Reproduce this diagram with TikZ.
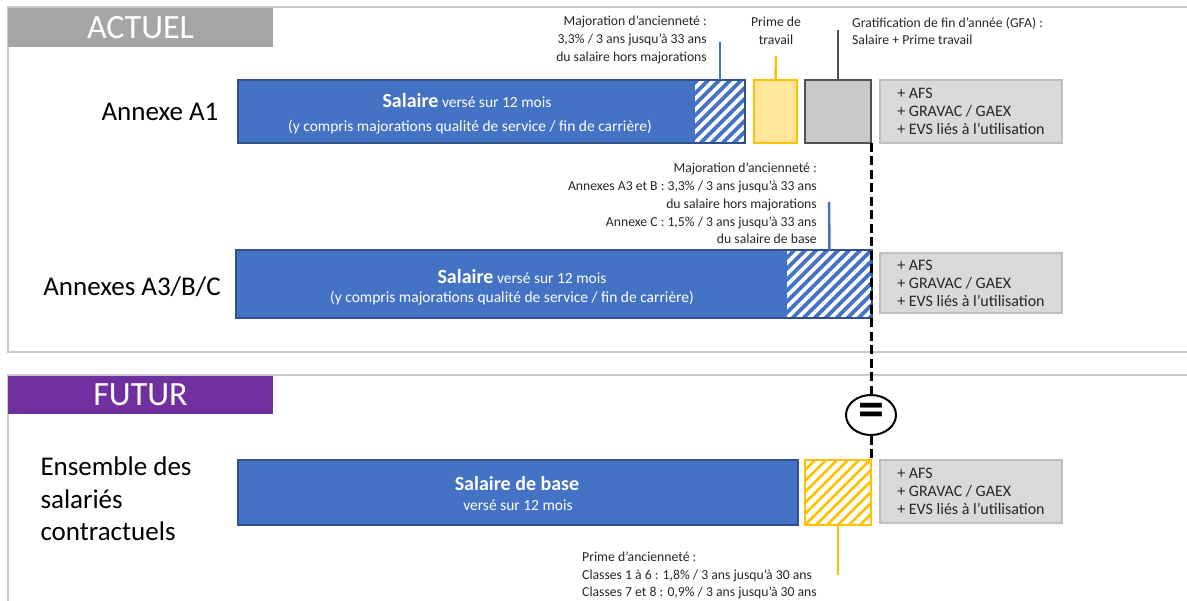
\documentclass[tikz,border=0pt]{standalone}
\usepackage{fontspec}
\setmainfont{Carlito}
\usetikzlibrary{calc,shapes.geometric}
\definecolor{bluefill}{HTML}{4472C4}
\definecolor{blueedge}{HTML}{2F528F}
\definecolor{yelfill}{HTML}{FFE699}
\definecolor{yeledge}{HTML}{FFC000}
\definecolor{gfafill}{HTML}{C9C9C9}
\definecolor{gfaedge}{HTML}{505050}
\definecolor{afsfill}{HTML}{D9D9D9}
\definecolor{afsedge}{HTML}{BFBFBF}
\definecolor{framecol}{HTML}{C8C8C8}
\definecolor{hdrgray}{HTML}{A5A5A5}
\definecolor{hdrpurple}{HTML}{7030A0}
\definecolor{txt}{HTML}{262626}
\begin{document}
\begin{tikzpicture}[x=1pt,y=-1pt,
  box/.style={anchor=north west, inner sep=0pt, outer sep=0pt},
  bar/.style={box, fill=bluefill, draw=blueedge, line width=2.5pt},
  hatchbox/.style={box, draw=none},
  primebox/.style={box, fill=yelfill, draw=yeledge, line width=2.2pt},
  gfabox/.style={box, fill=gfafill, draw=gfaedge, line width=2pt},
  afsbox/.style={anchor=north west, outer sep=0pt, fill=afsfill, draw=afsedge, line width=1.5pt,
     minimum width=182pt, inner sep=0pt, align=left,
     font=\fontsize{16}{18}\selectfont, text=txt},
  hdr/.style={box, minimum width=265pt, minimum height=38pt},
  hdrtext/.style={text=white, font=\fontsize{34}{36}\selectfont},
  rowlabel/.style={text=black, font=\fontsize{27}{32.5}\selectfont},
  note/.style={text=txt, font=\fontsize{13.7}{17.8}\selectfont, inner sep=0pt},
  bartitle/.style={text=white, font=\fontsize{15.5}{18}\selectfont, inner sep=0pt},
  frame/.style={draw=framecol, line width=1.8pt},
  leadblue/.style={draw=bluefill, line width=2.5pt},
  leadyel/.style={draw=yeledge, line width=2.5pt},
  leadgray/.style={draw=gfaedge, line width=2.5pt},
  dashline/.style={draw=black, line width=3pt, dash pattern=on 9pt off 4.5pt},
]
\useasboundingbox (0,0) rectangle (1187,601);

% section frames
\draw[frame] (1195,7) -- (8,7) -- (8,352) -- (1195,352);
\draw[frame] (1195,375) -- (8,375) -- (8,610);

% headers
\node[hdr, fill=hdrgray, minimum width=265pt, minimum height=39pt] (hactuel) at (8,8) {};
\node[hdrtext] (tactuel) at (hactuel.center) {ACTUEL};
\node[hdr, fill=hdrpurple, minimum width=265pt, minimum height=38pt] (hfutur) at (8,376) {};
\node[hdrtext] (tfutur) at (hfutur.center) {FUTUR};

% row labels
\node[rowlabel] (la1) at (160,112) {Annexe A1};
\node[rowlabel] (la3) at (132,287) {Annexes A3/B/C};
\node[rowlabel, anchor=west, align=left] (lfut) at (37,499) {Ensemble des\\salariés\\contractuels};

% ---------------- Annexe A1 ----------------
\node[bar, minimum width=507pt, minimum height=63pt] (a1bar) at (238,80) {};
\node[hatchbox, minimum width=50pt, minimum height=63pt] (a1hatch) at (695,80) {};
\begin{scope}
  \clip (a1hatch.south west) rectangle (a1hatch.north east);
  \foreach \k in {-7,...,5}
    \draw[white, line width=3.6pt] ($(a1hatch.south west)+(\k*11,0)$) -- ++(80,-80);
\end{scope}
\draw[blueedge, line width=2.5pt] (a1bar.south west) rectangle (a1bar.north east);
\node[bartitle] (a1t1) at (467,101) {{\fontsize{20}{20}\selectfont\bfseries Salaire} versé sur 12 mois};
\node[bartitle] (a1t2) at (470,127) {(y compris majorations qualité de service / fin de carrière)};

\node[primebox, minimum width=43pt, minimum height=63pt] (a1prime) at (754,80) {};
\node[gfabox, minimum width=66pt, minimum height=63pt] (a1gfa) at (805,80) {};
\node[afsbox, minimum height=63pt] (a1afs) at (880,80) {+ AFS\\+ GRAVAC / GAEX\\+ EVS liés à l’utilisation};

\coordinate (a1majtop) at (720,42);
\coordinate (primetop) at (776,56);
\coordinate (gfatop) at (838,30);
\draw[leadblue] (a1hatch.north) -- (a1majtop);
\draw[leadyel] (a1prime.north) -- (primetop);
\draw[leadgray] (a1gfa.north) -- (gfatop);

\node[note, anchor=east, align=right] (a1maj) at (707,40)
  {Majoration d’ancienneté :\\3,3\% / 3 ans jusqu’à 33 ans\\du salaire hors majorations};
\node[note, align=center] (primenote) at (776,31) {Prime de\\travail};
\node[note, anchor=west, align=left] (gfanote) at (852,31)
  {Gratification de fin d’année (GFA) :\\Salaire + Prime travail};

% ---------------- Annexes A3/B/C ----------------
\node[bar, minimum width=636pt, minimum height=68pt] (a3bar) at (236,250) {};
\node[hatchbox, minimum width=85pt, minimum height=68pt] (a3hatch) at (787,250) {};
\begin{scope}
  \clip (a3hatch.south west) rectangle (a3hatch.north east);
  \foreach \k in {-8,...,8}
    \draw[white, line width=3.6pt] ($(a3hatch.south west)+(\k*11,0)$) -- ++(90,-90);
\end{scope}
\draw[blueedge, line width=2.5pt] (a3bar.south west) rectangle (a3bar.north east);
\node[bartitle] (a3t1) at (522,277) {{\fontsize{20}{20}\selectfont\bfseries Salaire} versé sur 12 mois};
\node[bartitle] (a3t2) at (512,298) {(y compris majorations qualité de service / fin de carrière)};
\node[afsbox, minimum height=60pt] (a3afs) at (880,253) {+ AFS\\+ GRAVAC / GAEX\\+ EVS liés à l’utilisation};

\coordinate (a3majtop) at (829,202);
\draw[leadblue] (a3hatch.north) -- (a3majtop);
\node[note, anchor=east, align=right] (a3maj) at (817,203.5)
  {Majoration d’ancienneté :\\Annexes A3 et B : 3,3\% / 3 ans jusqu’à 33 ans\\du salaire hors majorations\\Annexe C : 1,5\% / 3 ans jusqu’à 33 ans\\du salaire de base};

% ---------------- Futur ----------------
\node[bar, minimum width=560pt, minimum height=65pt] (fbar) at (238,460) {};
\node[bartitle] (ft1) at (517,484) {\fontsize{20}{20}\selectfont\bfseries Salaire de base};
\node[bartitle] (ft2) at (518,505) {\fontsize{15.5}{18}\selectfont versé sur 12 mois};

\node[box, fill=white, minimum width=66pt, minimum height=65pt] (fhatch) at (805,460) {};
\begin{scope}
  \clip (fhatch.south west) rectangle (fhatch.north east);
  \foreach \k in {-7,...,7}
    \draw[yeledge, line width=2.8pt] ($(fhatch.south west)+(\k*11,0)$) -- ++(80,-80);
\end{scope}
\draw[yeledge, line width=2.2pt] (fhatch.south west) rectangle (fhatch.north east);
\node[afsbox, minimum height=63pt] (fafs) at (880,460) {+ AFS\\+ GRAVAC / GAEX\\+ EVS liés à l’utilisation};

\coordinate (fprimebot) at (838,575);
\draw[leadyel] (fhatch.south) -- (fprimebot);
\node[note, anchor=west, align=left] (fprime) at (582,575.5)
  {Prime d’ancienneté :\\Classes 1 à 6 : 1,8\% / 3 ans jusqu’à 30 ans\\Classes 7 et 8 : 0,9\% / 3 ans jusqu’à 30 ans};

% ---------------- equality link ----------------
\node[ellipse, draw=black, line width=2pt, fill=white, minimum width=50pt, minimum height=40pt, inner sep=0pt] (eq) at (871,415) {};
\node[inner sep=0pt, font=\fontsize{52}{52}\selectfont\bfseries] (eqsign) at (eq.center) {=};
\draw[dashline] (a1gfa.south east) -- (eq.north);
\draw[dashline] (eq.south) -- (fhatch.north east);
\end{tikzpicture}
\end{document}
